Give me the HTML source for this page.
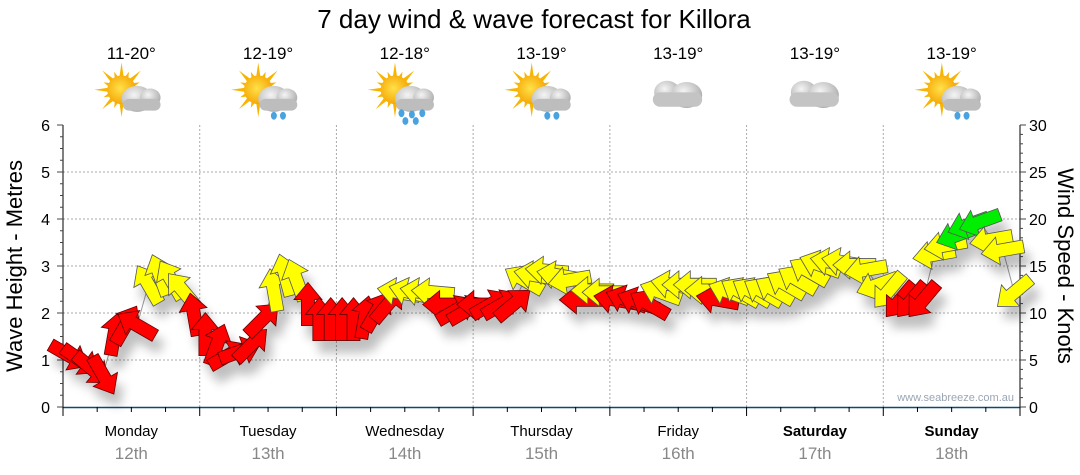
<!DOCTYPE html>
<html><head><meta charset="utf-8">
<style>
html,body{margin:0;padding:0;background:#fff;}
svg{display:block;font-family:"Liberation Sans",sans-serif;}
</style></head>
<body>
<svg id="chart" width="1080" height="475" viewBox="0 0 1080 475" xmlns="http://www.w3.org/2000/svg">
<defs>
<filter id="sh" x="-50%" y="-50%" width="200%" height="200%">
<feGaussianBlur in="SourceAlpha" stdDeviation="5"/>
<feOffset dx="6" dy="12" result="o"/>
<feComponentTransfer><feFuncA type="linear" slope="0.25"/></feComponentTransfer>
<feMerge><feMergeNode/><feMergeNode in="SourceGraphic"/></feMerge>
</filter>
<radialGradient id="cloudg" cx="40%" cy="35%" r="70%"><stop offset="0" stop-color="#f4f4f4"/><stop offset="1" stop-color="#a8a8a8"/></radialGradient>
<radialGradient id="sung" cx="45%" cy="45%" r="60%"><stop offset="0" stop-color="#ffe14a"/><stop offset="1" stop-color="#f5a300"/></radialGradient>
</defs>
<text x="534" y="28" font-size="26" text-anchor="middle" fill="#000">7 day wind &amp; wave forecast for Killora</text>
<g id="grid"></g>
<g id="axes"></g>
<g id="icons"></g>
<text transform="translate(22,266) rotate(-90)" font-size="22" text-anchor="middle">Wave Height - Metres</text>
<text transform="translate(1058,266) rotate(90)" font-size="22" text-anchor="middle">Wind Speed - Knots</text>
<text x="1014" y="401" font-size="11" text-anchor="end" fill="#9aa6b4">www.seabreeze.com.au</text>
<g id="marks"></g>
</svg>
<script>
const days = ["Monday","Tuesday","Wednesday","Thursday","Friday","Saturday","Sunday"];
const dates = ["12th","13th","14th","15th","16th","17th","18th"];
const temps = ["11-20°","12-19°","12-18°","13-19°","13-19°","13-19°","13-19°"];
const icons = ["suncloud","suncloudrain","suncloudrain2","suncloudrain","cloud","cloud","suncloudrain"];
const leftTicks = [0,1,2,3,4,5,6];
const rightTicks = [0,5,10,15,20,25,30];
// wind speed (knots), 2-hourly
const windSpeed = [
5.5,5,4.1,3.4,7.7,8.7,8.7,13,14,13.5,12.4,9.8,
7.7,6.6,5.5,5.9,6.6,9.3,12.4,14,13.5,10.9,9.3,9.3,
9.3,9.3,9.5,10.1,10.9,12.2,12.2,12.2,12.2,10.9,10.3,10.3,
10.9,10.9,10.9,10.9,13.5,14,14.5,14,13.5,11.4,12.4,12.2,
11.4,11.4,11.2,10.9,12.2,13,13,13,12.4,11.4,12.2,12.2,
12.2,12.2,12.4,13,13.5,14.4,15.1,15.4,15.4,15.1,14.6,13,
12.4,11.4,11.4,11.4,16.2,17.2,18.3,19.4,19.7,17.8,16.7,12.2];
// arrow heading (degrees, 0 = pointing up, clockwise)
const windDir = [
120,125,130,150,10,30,-60,-30,-20,-30,-40,-10,
0,20,60,70,45,45,-10,-15,-20,0,0,0,
0,0,10,30,40,-80,-75,-80,-85,-90,60,60,
-90,60,60,50,-60,-80,-85,-80,-100,-90,-90,-90,
-80,-70,-70,-60,-70,-80,-90,-90,-90,-80,-70,-60,
-60,-60,-60,-60,-60,-60,-70,-80,-80,-90,-100,-110,
-140,-140,-140,-140,-100,-100,-110,-110,-110,-100,-100,-130];

const NS="http://www.w3.org/2000/svg";
const X0=63,X1=1020,Y0=407,Y1=125;
const dayW=(X1-X0)/7;
const xTime=h=>X0+h/24*dayW;
const yM=m=>Y0-(m/6)*(Y0-Y1);
const yK=k=>Y0-(k/30)*(Y0-Y1);
function el(tag,attrs,parent){const e=document.createElementNS(NS,tag);for(const k in attrs)e.setAttribute(k,attrs[k]);parent.appendChild(e);return e;}
const grid=document.getElementById('grid'),axes=document.getElementById('axes'),iconsG=document.getElementById('icons'),marks=document.getElementById('marks');

for(let m=1;m<=5;m++){
  const g=el('line',{x1:X0,x2:X1,y1:yM(m),y2:yM(m),stroke:'#aaa','stroke-dasharray':'2,2'},grid);
  
  
}
for(let d=1;d<7;d++){
  const g=el('line',{x1:xTime(d*24),x2:xTime(d*24),y1:Y1,y2:Y0,stroke:'#aaa','stroke-dasharray':'2,2'},grid);
  
  
}
el('line',{x1:X0,x2:X0,y1:Y1,y2:Y0+1,stroke:'#000'},axes);
el('line',{x1:X1,x2:X1,y1:Y1,y2:Y0+1,stroke:'#000'},axes);
el('line',{x1:X0,x2:X1,y1:Y0+0.5,y2:Y0+0.5,stroke:'#0b4a74','stroke-width':1.5},axes);
for(let i=0;i<=24;i++){const y=yM(i*0.25);el('line',{x1:X0-(i%4==0?6:3),x2:X0,y1:y,y2:y,stroke:'#444'},axes);}
for(let i=0;i<=30;i++){const y=yK(i);el('line',{x1:X1,x2:X1+(i%5==0?6:3),y1:y,y2:y,stroke:'#444'},axes);}
for(let h=0;h<=168;h+=6){const x=xTime(h);el('line',{x1:x,x2:x,y1:Y0,y2:Y0+(h%24==0?9:5),stroke:'#000'},axes);}
leftTicks.forEach(v=>{
  const t=el('text',{x:50,y:yM(v)+6,'font-size':16,'text-anchor':'end'},axes);t.textContent=v;
  
  
});
rightTicks.forEach(v=>{
  const t=el('text',{x:1029,y:yK(v)+6,'font-size':16,'text-anchor':'start'},axes);t.textContent=v;
  
  
});
days.forEach((d,i)=>{
  const cx=xTime(i*24+12);
  const t=el('text',{x:cx,y:436,'font-size':15,'text-anchor':'middle','font-weight':i>=5?'bold':'normal'},axes);t.textContent=d;
  
  
  const t2=el('text',{x:cx,y:459,'font-size':17,'text-anchor':'middle',fill:'#888'},axes);t2.textContent=dates[i];
  
  
  const t3=el('text',{x:cx,y:59,'font-size':17,'text-anchor':'middle'},iconsG);t3.textContent=temps[i];
  
  
  const g=el('g',{transform:`translate(${cx-2},95) scale(1.3)`},iconsG);
  
  
  const type=icons[i];
  if(type!=='cloud'){
    for(let r=0;r<16;r++){const a=r*Math.PI/8;const L=r%2?15:21;
      el('polygon',{points:`${-6+Math.cos(a-0.2)*9},${-4+Math.sin(a-0.2)*9} ${-6+Math.cos(a)*L},${-4+Math.sin(a)*L} ${-6+Math.cos(a+0.2)*9},${-4+Math.sin(a+0.2)*9}`,fill:'#f7b500'},g);}
    el('circle',{cx:-6,cy:-4,r:11,fill:'url(#sung)'},g);
    el('ellipse',{cx:6,cy:3,rx:12,ry:10,fill:'url(#cloudg)'},g);
    el('ellipse',{cx:16,cy:2,rx:8,ry:7,fill:'url(#cloudg)'},g);
    el('rect',{x:-5,y:3,width:29,height:9,rx:4.5,fill:'#bdbdbd'},g);
    if(type.startsWith('suncloudrain')){
      const drops=type==='suncloudrain2'?[[-1,14],[7,15],[15,14],[2,20],[10,20]]:[[6,16],[13,16]];
      drops.forEach(p=>el('ellipse',{cx:p[0],cy:p[1],rx:2.3,ry:3,fill:'#4aa3df'},g));
    }
  } else {
    el('ellipse',{cx:-7,cy:-2,rx:10,ry:9,fill:'url(#cloudg)'},g);
    el('ellipse',{cx:8,cy:0,rx:12,ry:10,fill:'url(#cloudg)'},g);
    el('rect',{x:-18,y:-2,width:38,height:11,rx:5.5,fill:'#c4c4c4'},g);
  }
});

const pts=windSpeed.map((k,i)=>`${xTime(i*2+1)},${yK(k)}`).join(' ');
const ln=el('polyline',{points:pts,fill:'none',stroke:'#999','stroke-width':1},marks);


const ag=el('g',{filter:'url(#sh)'},marks);


windSpeed.forEach((k,i)=>{
  const x=xTime(i*2+1),y=yK(k);
  const col=k<12?'#ff0000':(k<18?'#ffff00':'#00ee00');
  const p=el('polygon',{points:'0,-22 14,-5 6.5,-5 6.5,21 -6.5,21 -6.5,-5 -14,-5',fill:col,stroke:col==='#ff0000'?'#600':'#555',
    'stroke-width':0.8,transform:`translate(${x},${y}) rotate(${windDir[i]})`},ag);
  
  
});
</script>
</body></html>
